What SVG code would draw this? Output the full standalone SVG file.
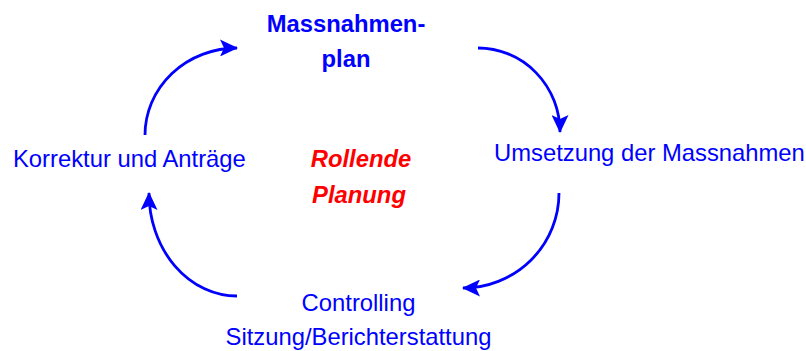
<svg xmlns="http://www.w3.org/2000/svg" width="806" height="351" viewBox="0 0 806 351">
<defs>
<style>
text{font-family:"Liberation Sans",Arial,sans-serif;font-size:23.8px;fill:#0000ff}
.b{font-weight:bold}
.r{fill:#ff0000;font-weight:bold;font-style:italic}
.c{text-anchor:middle}
.arc{fill:none;stroke:#0000ff;stroke-width:2.8}
</style>
<marker id="ah" markerUnits="userSpaceOnUse" markerWidth="18" markerHeight="17" refX="17" refY="8.5" orient="auto" viewBox="0 0 18 17">
<path d="M0,0 L18,8.5 L0,17 L4,8.5 z" fill="#0000ff"/>
</marker>
</defs>
<rect width="806" height="351" fill="#ffffff"/>
<g id="connectors">
<path class="arc" d="M145,135 A92,87 0 0 1 237,48" marker-end="url(#ah)"/>
<path class="arc" d="M478,48 A82,84 0 0 1 560,132" marker-end="url(#ah)"/>
<path class="arc" d="M559,193 A96,95 0 0 1 463,288" marker-end="url(#ah)"/>
<path class="arc" d="M237,296 A88,103 0 0 1 149,193" marker-end="url(#ah)"/>
</g>
<g id="plan">
<text class="b c" x="346" y="32">Massnahmen-</text>
<text class="b c" x="346" y="67">plan</text>
</g>
<g id="umsetzung">
<text x="494" y="161">Umsetzung der Massnahmen</text>
</g>
<g id="controlling">
<text class="c" x="358.5" y="311">Controlling</text>
<text class="c" x="358.5" y="345">Sitzung/Berichterstattung</text>
</g>
<g id="korrektur">
<text x="13" y="167">Korrektur und Anträge</text>
</g>
<g id="center">
<text class="r c" x="361" y="167">Rollende</text>
<text class="r c" x="359" y="203">Planung</text>
</g>
</svg>
